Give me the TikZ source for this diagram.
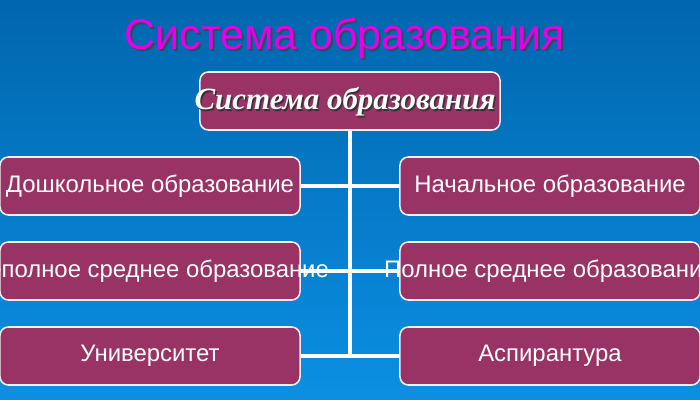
\documentclass[tikz,border=0pt]{standalone}
\usepackage{fontspec}
\setmainfont{Liberation Sans}
\newfontfamily\headserif{Liberation Serif}
\definecolor{bgtop}{HTML}{0066AE}
\definecolor{bgbot}{HTML}{0C8FE2}
\definecolor{boxfill}{HTML}{993366}
\definecolor{titlemag}{HTML}{E600E6}
\pgfdeclarelayer{back}
\pgfdeclarelayer{edges}
\pgfsetlayers{back,edges,main}
\tikzset{
  level/.style={draw=white!88!gray, line width=1.1pt, fill=boxfill, rounded corners=6pt,
    minimum width=7.5cm, minimum height=1.45cm, inner sep=0pt, text=white,
    font=\fontsize{17}{20}\selectfont},
  link/.style={white, line width=2.2pt},
  titletext/.style={font=\fontsize{30.5}{36}\selectfont},
  headtext/.style={font=\headserif\bfseries\itshape\fontsize{22}{27}\selectfont}
}

\begin{document}
\begin{tikzpicture}[x=0.025cm,y=-0.025cm]
        \useasboundingbox (0,0) rectangle (700,400);
        % background
        \begin{pgfonlayer}{back}
          \shade[top color=bgtop, bottom color=bgbot] (0,0) rectangle (700,400);
        \end{pgfonlayer}
        % slide title with shadow
        \node[titletext, text=black!75, opacity=0.7] (titleshadow) at (347,40) {Система образования};
        \node[titletext, text=titlemag] (title) at (345,38) {Система образования};
        % top box
        \node[level] (top) at (350,101) {};
        \node[headtext, text=black!80] (headshadow) at (346.5,103.5) {Система образования};
        \node[headtext, text=white] (head) at (345,102) {Система образования};
        % left column
        \node[level] (pre) at (150,186) {\makebox[0pt]{Дошкольное образование}};
        \node[level] (incsec) at (150,271) {\makebox[0pt]{Неполное среднее образование}};
        \node[level] (univ) at (150,356) {\makebox[0pt]{Университет}};
        % right column
        \node[level] (prim) at (550,186) {\makebox[0pt]{Начальное образование}};
        \node[level] (fullsec) at (550,271) {\makebox[0pt]{Полное среднее образование}};
        \node[level] (grad) at (550,356) {\makebox[0pt]{Аспирантура}};
        % connectors
        \begin{pgfonlayer}{edges}
          \draw[link] (top.south) -- (top.south |- univ.east);
          \foreach \a/\b in {pre/prim, incsec/fullsec, univ/grad}
            \draw[link] (\a.east) -- (\b.west);
        \end{pgfonlayer}
      \end{tikzpicture}
\end{document}
